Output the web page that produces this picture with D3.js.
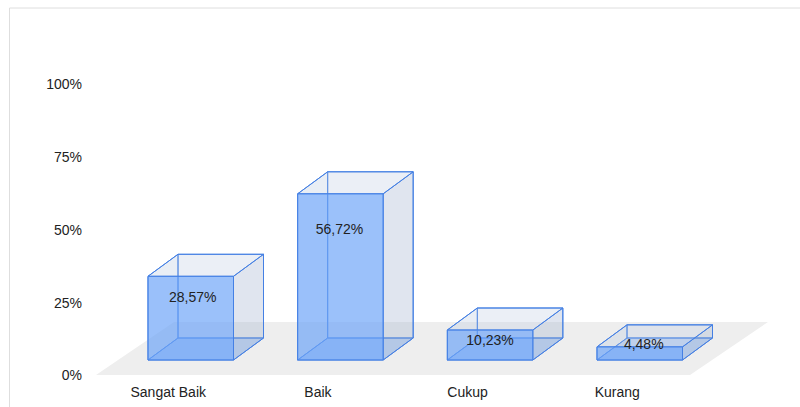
<!DOCTYPE html>
<html><head><meta charset="utf-8">
<script src="https://cdn.jsdelivr.net/npm/d3@7/dist/d3.min.js"></script>
<style>html,body{margin:0;padding:0;background:#fff}svg{display:block}text{font-family:"Liberation Sans",Arial,sans-serif;font-size:14px;fill:#222}</style>
</head><body><svg id="c" width="800" height="407"></svg>
<script>
const categories = ["Sangat Baik","Baik","Cukup","Kurang"];
const values = [28.57,56.72,10.23,4.48];
const valueLabels = ["28,57%","56,72%","10,23%","4,48%"];
const yTicks = [0,25,50,75,100];

const svg = d3.select("#c");
// frame: left and top edges only
svg.append("path").attr("d","M9.5,407V8H800").attr("fill","none").attr("stroke","#dedede");

const dx=30,dy=22;
const barX=d3.scalePoint().domain(categories).range([148,597]);
const barW=85.5;
const h=d3.scaleLinear().domain([0,100]).range([0,293]);
const yFloor=360;
const yAxis=d3.scaleLinear().domain([0,100]).range([375.5,84.5]);

// floor
svg.append("polygon").attr("points",[[96,375],[690,375],[768,322],[174,322]].map(p=>p.join(",")).join(" ")).attr("fill","#eeeeee");

// y labels
svg.append("g").selectAll("text").data(yTicks).join("text")
 .attr("x",82).attr("y",d=>yAxis(d)).attr("dy","0.35em").attr("text-anchor","end").text(d=>d+"%");

// x labels
svg.append("g").selectAll("text").data(categories).join("text")
 .attr("x",d=>barX(d)+barW/2-22.5).attr("y",392.5).attr("dy","0.35em").attr("text-anchor","middle").text(d=>d);

const stroke="#4580e4";
const bars=svg.append("g").selectAll("g").data(categories.map((c,i)=>({c,v:values[i],l:valueLabels[i],i}))).join("g");
const P=(pts)=>pts.map(p=>p.join(",")).join(" ");
bars.each(function(d){
  const g=d3.select(this),x0=barX(d.c),x1=x0+barW,yb=yFloor,yt=yFloor-h(d.v);
  const poly=(pts,fill,op)=>g.append("polygon").attr("points",P(pts)).attr("fill",fill).attr("fill-opacity",op).attr("stroke",stroke).attr("stroke-width",1).attr("stroke-linejoin","round");
  // back
  poly([[x0+dx,yb-dy],[x1+dx,yb-dy],[x1+dx,yt-dy],[x0+dx,yt-dy]],"#a9c4ee",0.08);
  // left
  poly([[x0,yb],[x0+dx,yb-dy],[x0+dx,yt-dy],[x0,yt]],"#a9c4ee",0.1);
  // bottom
  poly([[x0,yb],[x1,yb],[x1+dx,yb-dy],[x0+dx,yb-dy]],"#5f9cf5",0.35);
  // right
  poly([[x1,yb],[x1+dx,yb-dy],[x1+dx,yt-dy],[x1,yt]],"#a3b0c8",0.28);
  // top
  poly([[x0,yt],[x1,yt],[x1+dx,yt-dy],[x0+dx,yt-dy]],"#c5cfe0",0.25);
  // front
  poly([[x0,yb],[x1,yb],[x1,yt],[x0,yt]],"#6ea5f8",0.68);
});
// value labels
const labelY=d3.scaleLinear().domain([4.48,10.23,56.72]).range([344,340.5,229.5]);
const labelNudge=[2,-1,0,4];
bars.append("text").attr("x",d=>barX(d.c)+barW/2+labelNudge[d.i]).attr("y",d=>labelY(d.v)).attr("dy","0.35em").attr("text-anchor","middle").text(d=>d.l);
</script></body></html>
